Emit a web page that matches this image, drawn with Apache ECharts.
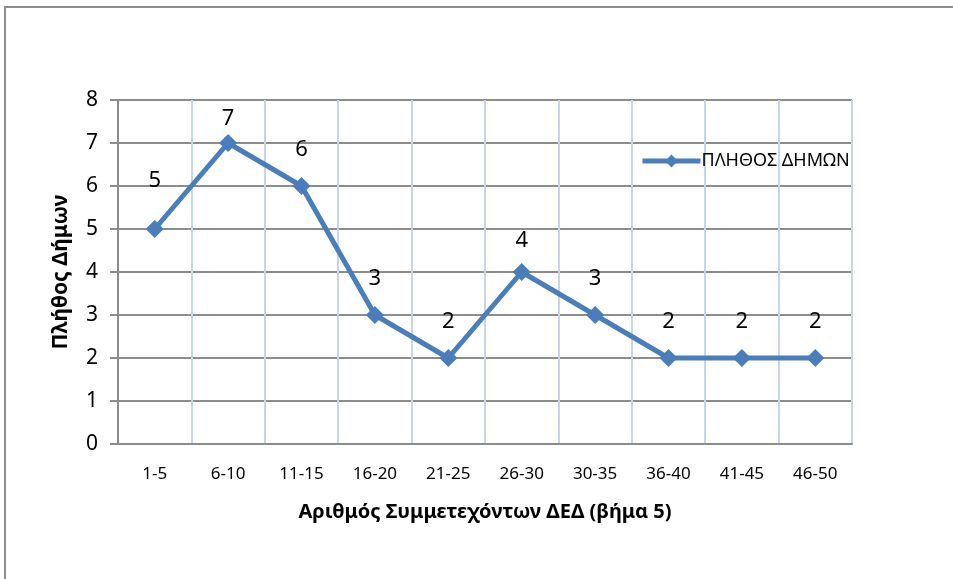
<!DOCTYPE html>
<html>
<head>
<meta charset="utf-8">
<script src="https://cdn.jsdelivr.net/npm/echarts@6/dist/echarts.min.js"></script>
<style>
  html, body { margin: 0; padding: 0; background: #fff; }
  #chart { width: 953px; height: 579px; }
</style>
</head>
<body>
<div id="chart"></div>
<script>
const categories = ["1-5", "6-10", "11-15", "16-20", "21-25", "26-30", "30-35", "36-40", "41-45", "46-50"];
const counts = [5, 7, 6, 3, 2, 4, 3, 2, 2, 2];
const yTicks = [0, 1, 2, 3, 4, 5, 6, 7, 8];
const seriesName = "ΠΛΗΘΟΣ ΔΗΜΩΝ";

const FONT = "Noto Sans";
const BLUE = "#4a7ebb";
const GRAY = "#8c8c8c";

// Excel nudged a couple of the value labels; mimic that
const labelGap = { 0: 28, 1: 4, 5: 11 };

const chart = echarts.init(document.getElementById("chart"), null, { renderer: "canvas" });

chart.setOption({
  animation: false,
  textStyle: { fontFamily: FONT },
  graphic: [{
    type: "rect",
    shape: { x: 5, y: 7, width: 1000, height: 600 },
    style: { fill: "none", stroke: GRAY, lineWidth: 2 },
    silent: true
  }],
  grid: { left: 118, right: 101, top: 100, bottom: 135, containLabel: false },
  legend: {
    data: [seriesName],
    left: 635,
    top: 147,
    itemWidth: 58,
    itemHeight: 16,
    lineStyle: { width: 5 },
    textStyle: { fontFamily: FONT, fontSize: 18, color: "#000", padding: [0, 0, 0, -4] }
  },
  xAxis: {
    type: "category",
    data: categories,
    boundaryGap: true,
    name: "Αριθμός Συμμετεχόντων ΔΕΔ (βήμα 5)",
    nameLocation: "middle",
    nameGap: 58,
    nameTextStyle: { fontFamily: FONT, fontSize: 20, fontWeight: "bold", color: "#000" },
    axisLine: { lineStyle: { color: GRAY, width: 2 } },
    axisTick: { show: false },
    axisLabel: { fontFamily: FONT, fontSize: 17, color: "#000", margin: 22, interval: 0 },
    splitLine: { show: true, lineStyle: { color: "#c6d5ea", width: 2 } }
  },
  yAxis: {
    type: "value",
    min: yTicks[0],
    max: yTicks[yTicks.length - 1],
    interval: 1,
    name: "Πλήθος Δήμων",
    nameLocation: "middle",
    nameGap: 46,
    nameTextStyle: { fontFamily: FONT, fontSize: 21, fontWeight: "bold", color: "#000" },
    axisLine: { show: true, lineStyle: { color: GRAY, width: 2 } },
    axisTick: { show: true, inside: false, length: 8, lineStyle: { color: GRAY, width: 2 } },
    axisLabel: { fontFamily: FONT, fontSize: 21, color: "#000", margin: 20 },
    splitLine: { show: true, lineStyle: { color: GRAY, width: 2 } }
  },
  series: [{
    name: seriesName,
    type: "line",
    data: counts.map((v, i) => labelGap[i] !== undefined
      ? { value: v, label: { distance: labelGap[i] } }
      : v),
    symbol: "diamond",
    symbolSize: 18,
    itemStyle: { color: BLUE },
    lineStyle: { color: BLUE, width: 5 },
    label: {
      show: true,
      position: "top",
      distance: 16,
      fontFamily: FONT,
      fontSize: 22,
      color: "#000"
    }
  }]
});
</script>
</body>
</html>
